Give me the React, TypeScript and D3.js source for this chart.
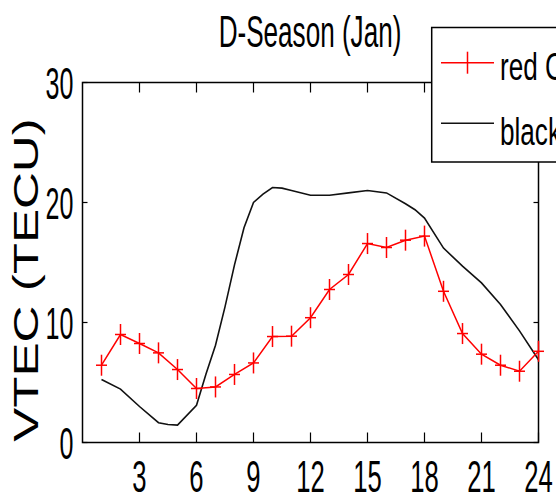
import React from "react";
import * as d3 from "d3";

const title = "D-Season (Jan)";
const yLabel = "VTEC (TECU)";
const legendLabels = ["red CODE", "black IRI"];

const redHours = [1, 2, 3, 4, 5, 6, 7, 8, 9, 10, 11, 12, 13, 14, 15, 16, 17, 18, 19, 20, 21, 22, 23, 24];
const redValues = [6.44, 9.0, 8.25, 7.47, 6.08, 4.5, 4.63, 5.67, 6.63, 8.83, 8.86, 10.4, 12.75, 14.0, 16.58, 16.25, 16.86, 17.2, 12.6, 9.08, 7.36, 6.44, 5.94, 7.6];

const blackHours = [1, 2, 3, 4, 4.5, 5, 6, 6.5, 7, 7.5, 8, 8.5, 9, 9.5, 10, 10.5, 11, 12, 13, 14, 15, 16, 17, 17.5, 18, 19, 20, 21, 22, 23, 24];
const blackValues = [5.25, 4.45, 3.0, 1.65, 1.5, 1.45, 3.1, 5.7, 8.1, 11.3, 14.8, 17.9, 20.0, 20.7, 21.25, 21.2, 21.0, 20.6, 20.6, 20.8, 21.0, 20.8, 19.9, 19.4, 18.7, 16.2, 14.7, 13.3, 11.5, 9.3, 6.9];

const xTicks = [3, 6, 9, 12, 15, 18, 21, 24];
const yTicks = [0, 10, 20, 30];

export default function App() {
  const W = 556, H = 501;
  const left = 82.5, right = 538.5, top = 82.5, bottom = 442.5;
  const x = d3.scaleLinear().domain([0, 24]).range([left, right]);
  const y = d3.scaleLinear().domain([0, 30]).range([bottom, top]);

  const redPts: [number, number][] = redHours.map((h, i) => [h, redValues[i]]);
  const blackPts: [number, number][] = blackHours.map((h, i) => [h, blackValues[i]]);
  const line = d3.line<[number, number]>().x(d => x(d[0])).y(d => y(d[1]));

  const font = "'Liberation Sans', Arial, sans-serif";
  const sx = 0.57;

  return (
    <svg width={W} height={H} style={{ position: "absolute", left: 0, top: 0, background: "#fff" }} fontFamily={font}>
      <rect x={0} y={0} width={W} height={H} fill="#fff" />
      {/* title */}
      <text transform={`translate(310,47) scale(0.58,1)`} textAnchor="middle" fontSize={45} fill="#000">{title}</text>
      {/* y label */}
      <text transform={`translate(38,280) rotate(-90) scale(1.46,1)`} textAnchor="middle" fontSize={35} fill="#000">{yLabel}</text>

      {/* axes box */}
      <rect x={left} y={top} width={right - left} height={bottom - top} fill="none" stroke="#000" strokeWidth={1.5} />
      {xTicks.map(t => (
        <g key={"xt" + t}>
          <line x1={x(t)} x2={x(t)} y1={bottom} y2={bottom - 10} stroke="#000" strokeWidth={1.2} />
          <line x1={x(t)} x2={x(t)} y1={top} y2={top + 10} stroke="#000" strokeWidth={1.2} />
          <text transform={`translate(${x(t)},492) scale(${sx},1)`} textAnchor="middle" fontSize={45} fill="#000">{t}</text>
        </g>
      ))}
      {yTicks.map(t => (
        <g key={"yt" + t}>
          <line x1={left} x2={left + 5} y1={y(t)} y2={y(t)} stroke="#000" strokeWidth={1.2} />
          <line x1={right} x2={right - 5} y1={y(t)} y2={y(t)} stroke="#000" strokeWidth={1.2} />
          <text transform={`translate(73.5,${y(t) + 16}) scale(${sx},1)`} textAnchor="end" fontSize={44} fill="#000">{t}</text>
        </g>
      ))}

      {/* black line */}
      <path d={line(blackPts) || ""} fill="none" stroke="#111" strokeWidth={1.6} />
      {/* red line */}
      <path d={line(redPts) || ""} fill="none" stroke="#ff0000" strokeWidth={1.5} />
      {redPts.map((d, i) => (
        <g key={"m" + i} stroke="#ff0000" strokeWidth={1.5}>
          <line x1={x(d[0]) - 5.5} x2={x(d[0]) + 5.5} y1={y(d[1])} y2={y(d[1])} />
          <line x1={x(d[0])} x2={x(d[0])} y1={y(d[1]) - 10.5} y2={y(d[1]) + 10.5} />
        </g>
      ))}

      {/* legend */}
      <rect x={431.7} y={27.5} width={140} height={134.5} fill="#fff" stroke="#000" strokeWidth={1.5} />
      <g stroke="#ff0000" strokeWidth={1.5}>
        <line x1={441} x2={494} y1={62.7} y2={62.7} />
        <line x1={467.5} x2={467.5} y1={51.7} y2={73.7} />
      </g>
      <text transform={`translate(500,80) scale(0.67,1)`} fontSize={39} fill="#000">{legendLabels[0]}</text>
      <line x1={441} x2={494} y1={123.3} y2={123.3} stroke="#111" strokeWidth={1.6} />
      <text transform={`translate(500,145) scale(0.67,1)`} fontSize={39} fill="#000">{legendLabels[1]}</text>
    </svg>
  );
}
